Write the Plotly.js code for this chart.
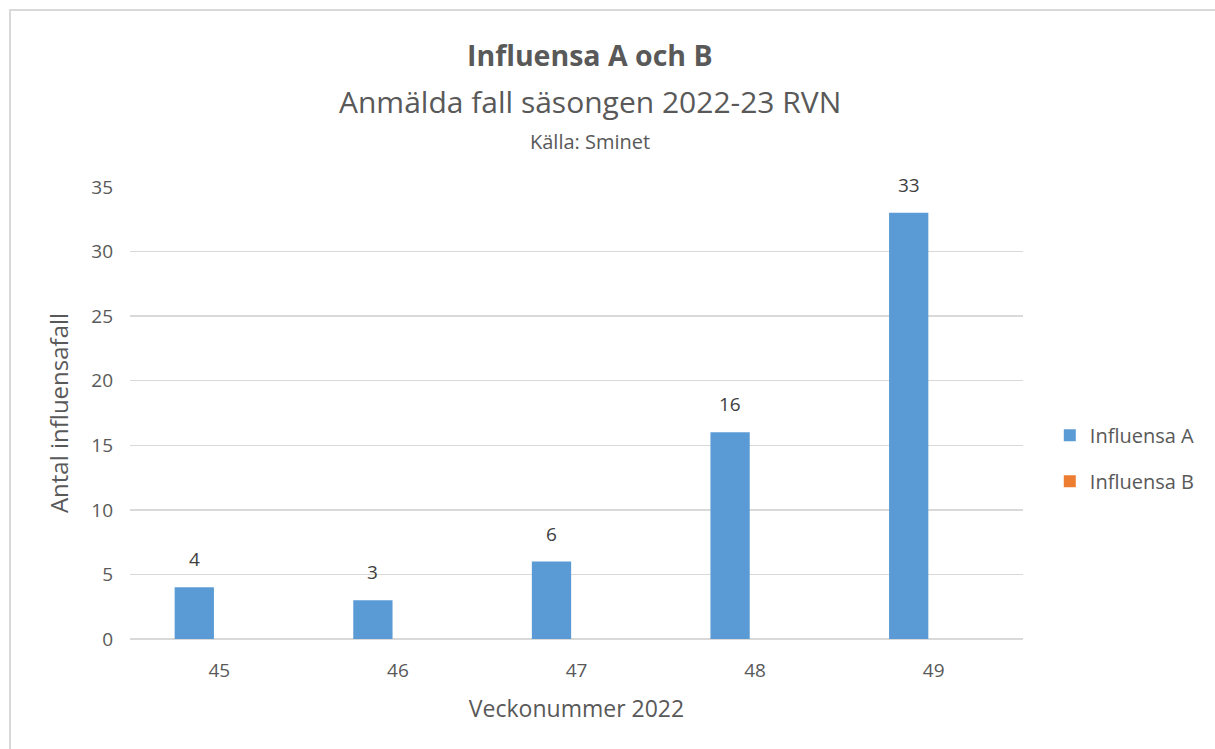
<!DOCTYPE html>
<html><head><meta charset="utf-8">
<script src="https://cdn.plot.ly/plotly-3.0.1.min.js"></script>
<style>
html,body{margin:0;padding:0;background:#fff;}
#wrap{position:relative;width:1215px;height:749px;overflow:hidden;}
#frame{position:absolute;left:9px;top:9px;width:1300px;height:900px;border:2px solid #d9d9d9;box-sizing:border-box;pointer-events:none;}
#chart{position:absolute;left:0;top:0;width:1215px;height:749px;}
</style></head>
<body><div id="wrap"><div id="chart"></div><div id="frame"></div></div>
<script>
const weeks = ['45','46','47','48','49'];
const influensaA = [4, 3, 6, 16, 33];
const influensaB = [0, 0, 0, 0, 0];
const yTicks = [0, 5, 10, 15, 20, 25, 30, 35];

const font = 'Open Sans, Noto Sans, sans-serif';
const col = '#595959';
const barW = 0.22, offA = -0.25, offB = 0.03;

const traces = [
  {type:'bar', name:'Influensa A', legendgroup:'a', x:weeks, y:influensaA, marker:{color:'#5b9bd5'},
   offset:offA, width:barW},
  {type:'bar', name:'Influensa B', legendgroup:'b', x:weeks, y:influensaB, marker:{color:'#ed7d31'},
   offset:offB, width:barW}
];

const labelAnns = influensaA.map((v, i) => ({
  text:String(v), xref:'x', yref:'y', x:i + offA + barW/2, y:v, yshift:28,
  xanchor:'center', yanchor:'middle', showarrow:false,
  font:{family:font, size:19, color:'#404040'}
}));

const layout = {
  width:1215, height:749,
  margin:{l:130, r:192, t:187, b:110},
  paper_bgcolor:'rgba(0,0,0,0)', plot_bgcolor:'#fff',
  font:{family:font, color:col},
  barmode:'overlay',
  showlegend:true,
  legend:{x:1.03, y:0.40, xanchor:'left', yanchor:'middle', font:{size:20, color:col}, tracegroupgap:17, itemwidth:30},
  xaxis:{type:'category', showgrid:false, showline:false, zeroline:false, ticks:'',
         tickfont:{size:19, color:col}, ticklabelstandoff:18,
         title:{text:'Veckonummer 2022', font:{size:23, color:col}, standoff:18}},
  yaxis:{range:[0,35], tickvals:yTicks, showgrid:true, gridcolor:'#d9d9d9', gridwidth:1.5,
         zeroline:true, zerolinecolor:'#d9d9d9', zerolinewidth:1.5, showline:false, ticks:'',
         tickfont:{size:19, color:col}, ticklabelstandoff:16,
         title:{text:'Antal influensafall', font:{size:24, color:col}, standoff:15}},
  annotations:[
    {text:'<b>Influensa A och B</b>', xref:'paper', yref:'paper', x:0.515, y:1, yshift:132, xanchor:'center', yanchor:'middle', showarrow:false, font:{size:28.5, color:col}},
    {text:'Anmälda fall säsongen 2022-23 RVN', xref:'paper', yref:'paper', x:0.515, y:1, yshift:86, xanchor:'center', yanchor:'middle', showarrow:false, font:{size:30, color:col}},
    {text:'Källa: Sminet', xref:'paper', yref:'paper', x:0.515, y:1, yshift:46, xanchor:'center', yanchor:'middle', showarrow:false, font:{size:20, color:col}}
  ].concat(labelAnns)
};
Plotly.newPlot('chart', traces, layout, {displayModeBar:false, staticPlot:true});
</script></body></html>
